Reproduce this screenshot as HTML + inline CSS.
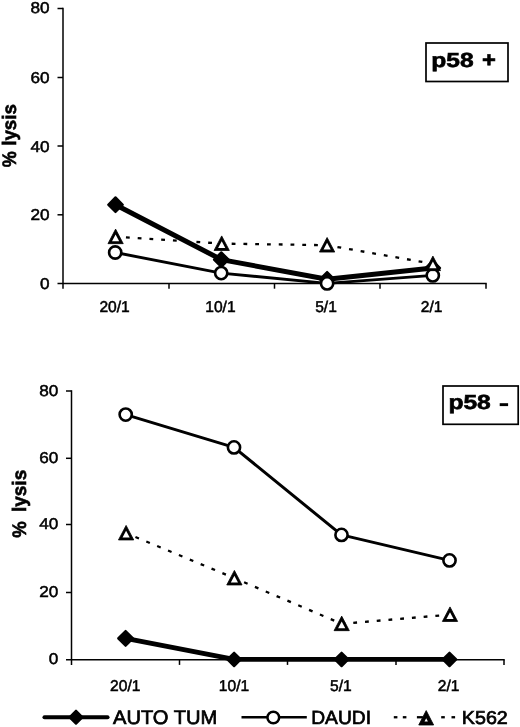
<!DOCTYPE html>
<html><head><meta charset="utf-8"><title>chart</title>
<style>
html,body{margin:0;padding:0;background:#fff;}
svg{display:block;will-change:transform;opacity:0.999;}
text{font-family:"Liberation Sans",sans-serif;fill:#000;stroke:#000;stroke-width:0.5px;text-rendering:geometricPrecision;}
.b{font-weight:bold;stroke-width:0.6px;}
.lg{stroke-width:0.7px;}
</style></head><body>
<svg width="520" height="727" viewBox="0 0 520 727">
<rect width="520" height="727" fill="#fff"/>
<g stroke="#000" stroke-width="1.5" fill="none">
<line x1="63" y1="7.8" x2="63" y2="288.7"/>
<line x1="57.5" y1="283.5" x2="486.7" y2="283.5"/>
<line x1="57.5" y1="214.8" x2="63" y2="214.8"/>
<line x1="57.5" y1="146" x2="63" y2="146"/>
<line x1="57.5" y1="77.5" x2="63" y2="77.5"/>
<line x1="57.5" y1="8.5" x2="63" y2="8.5"/>
<line x1="169" y1="283.5" x2="169" y2="288.7"/>
<line x1="274.5" y1="283.5" x2="274.5" y2="288.7"/>
<line x1="380" y1="283.5" x2="380" y2="288.7"/>
<line x1="486" y1="283.5" x2="486" y2="288.7"/>
</g>
<text x="39.95" y="289.0" font-size="15.7" textLength="9.55" lengthAdjust="spacingAndGlyphs">0</text>
<text x="30.4" y="220.3" font-size="15.7" textLength="19.1" lengthAdjust="spacingAndGlyphs">20</text>
<text x="30.4" y="151.5" font-size="15.7" textLength="19.1" lengthAdjust="spacingAndGlyphs">40</text>
<text x="30.4" y="83.0" font-size="15.7" textLength="19.1" lengthAdjust="spacingAndGlyphs">60</text>
<text x="30.4" y="13.2" font-size="15.7" textLength="19.1" lengthAdjust="spacingAndGlyphs">80</text>
<text x="99.45" y="312.1" font-size="15.6">20/1</text>
<text x="205.25" y="312.1" font-size="15.6">10/1</text>
<text x="315.2" y="312.1" font-size="15.6">5/1</text>
<text x="420.75" y="312.1" font-size="15.6">2/1</text>
<g stroke="#000" stroke-width="1.5" fill="none">
<line x1="71.5" y1="390.3" x2="71.5" y2="664.9000000000001"/>
<line x1="66.0" y1="659.7" x2="504.7" y2="659.7"/>
<line x1="66.0" y1="592.5" x2="71.5" y2="592.5"/>
<line x1="66.0" y1="524.5" x2="71.5" y2="524.5"/>
<line x1="66.0" y1="458.3" x2="71.5" y2="458.3"/>
<line x1="66.0" y1="391" x2="71.5" y2="391"/>
<line x1="179.5" y1="659.7" x2="179.5" y2="664.9000000000001"/>
<line x1="287.5" y1="659.7" x2="287.5" y2="664.9000000000001"/>
<line x1="396" y1="659.7" x2="396" y2="664.9000000000001"/>
<line x1="504" y1="659.7" x2="504" y2="664.9000000000001"/>
</g>
<text x="48.75" y="664.2" font-size="15.7" textLength="9.55" lengthAdjust="spacingAndGlyphs">0</text>
<text x="39.2" y="597.0" font-size="15.7" textLength="19.1" lengthAdjust="spacingAndGlyphs">20</text>
<text x="39.2" y="529.0" font-size="15.7" textLength="19.1" lengthAdjust="spacingAndGlyphs">40</text>
<text x="39.2" y="462.8" font-size="15.7" textLength="19.1" lengthAdjust="spacingAndGlyphs">60</text>
<text x="39.2" y="395.5" font-size="15.7" textLength="19.1" lengthAdjust="spacingAndGlyphs">80</text>
<text x="110.05" y="690.7" font-size="15.6">20/1</text>
<text x="218.85" y="690.7" font-size="15.6">10/1</text>
<text x="330.1" y="690.7" font-size="15.6">5/1</text>
<text x="437.85" y="690.7" font-size="15.6">2/1</text>
<text class="b" font-size="19.5" textLength="16.0" lengthAdjust="spacingAndGlyphs" transform="translate(15.8,167.3) rotate(-90)">%</text><text class="b" font-size="19.5" textLength="41.6" lengthAdjust="spacingAndGlyphs" transform="translate(15.8,145.8) rotate(-90)">lysis</text>
<text class="b" font-size="19.5" textLength="16.4" lengthAdjust="spacingAndGlyphs" transform="translate(26.4,537.8) rotate(-90)">%</text><text class="b" font-size="19.5" textLength="42.2" lengthAdjust="spacingAndGlyphs" transform="translate(26.4,512) rotate(-90)">lysis</text>
<polyline points="115.5,204.7 221.3,259.6 327.1,279.3 432.8,268" fill="none" stroke="#000" stroke-width="5.0" stroke-linejoin="round"/>
<polygon points="108.20,204.7 115.5,197.40 122.80,204.7 115.5,212.00" fill="#000" stroke="#000" stroke-width="2.2" stroke-linejoin="round"/>
<polygon points="214.00,259.6 221.3,252.30 228.60,259.6 221.3,266.90" fill="#000" stroke="#000" stroke-width="2.2" stroke-linejoin="round"/>
<polygon points="319.80,279.3 327.1,272.00 334.40,279.3 327.1,286.60" fill="#000" stroke="#000" stroke-width="2.2" stroke-linejoin="round"/>
<polygon points="425.50,268 432.8,260.70 440.10,268 432.8,275.30" fill="#000" stroke="#000" stroke-width="2.2" stroke-linejoin="round"/>
<polyline points="115.2,252.5 221.2,273.1 327.1,283.4 432.8,275.4" fill="none" stroke="#000" stroke-width="2.9" stroke-linejoin="round"/>
<circle cx="115.2" cy="252.5" r="6.10" fill="#fff" stroke="#000" stroke-width="2.6"/>
<circle cx="221.2" cy="273.1" r="6.10" fill="#fff" stroke="#000" stroke-width="2.6"/>
<circle cx="327.1" cy="283.4" r="6.10" fill="#fff" stroke="#000" stroke-width="2.6"/>
<circle cx="432.8" cy="275.4" r="6.10" fill="#fff" stroke="#000" stroke-width="2.6"/>
<polyline points="115.6,236.8 221.7,243.6 327.1,245.2 432.9,263.8" fill="none" stroke="#000" stroke-width="2.3" stroke-dasharray="3.8 7.97" stroke-dashoffset="1.4" stroke-linecap="butt"/>
<polygon points="107.96,243.65 115.6,229.11 123.24,243.65" fill="#000" stroke="#000" stroke-width="0.8" stroke-linejoin="round"/><polygon points="112.02,241.2 115.6,234.38 119.18,241.2" fill="#fff"/>
<polygon points="214.06,250.45 221.7,235.91 229.34,250.45" fill="#000" stroke="#000" stroke-width="0.8" stroke-linejoin="round"/><polygon points="218.12,248.0 221.7,241.18 225.28,248.0" fill="#fff"/>
<polygon points="319.46,252.05 327.1,237.51 334.74,252.05" fill="#000" stroke="#000" stroke-width="0.8" stroke-linejoin="round"/><polygon points="323.52,249.6 327.1,242.78 330.68,249.6" fill="#fff"/>
<polygon points="425.26,270.65 432.9,256.11 440.54,270.65" fill="#000" stroke="#000" stroke-width="0.8" stroke-linejoin="round"/><polygon points="429.32,268.2 432.9,261.38 436.48,268.2" fill="#fff"/>
<polyline points="125.6,638.4 234.1,659.4 341.6,659.4 449.5,659.4" fill="none" stroke="#000" stroke-width="4.8" stroke-linejoin="round"/>
<polygon points="118.20,638.4 125.6,631.00 133.00,638.4 125.6,645.80" fill="#000" stroke="#000" stroke-width="2.2" stroke-linejoin="round"/>
<polygon points="227.40,659.4 234.1,652.70 240.80,659.4 234.1,666.10" fill="#000" stroke="#000" stroke-width="2.2" stroke-linejoin="round"/>
<polygon points="334.90,659.4 341.6,652.70 348.30,659.4 341.6,666.10" fill="#000" stroke="#000" stroke-width="2.2" stroke-linejoin="round"/>
<polygon points="442.80,659.4 449.5,652.70 456.20,659.4 449.5,666.10" fill="#000" stroke="#000" stroke-width="2.2" stroke-linejoin="round"/>
<polyline points="125.7,414.6 234,447.4 341.5,534.9 449.5,560.4" fill="none" stroke="#000" stroke-width="3.0" stroke-linejoin="round"/>
<circle cx="125.7" cy="414.6" r="6.10" fill="#fff" stroke="#000" stroke-width="2.6"/>
<circle cx="234" cy="447.4" r="6.10" fill="#fff" stroke="#000" stroke-width="2.6"/>
<circle cx="341.5" cy="534.9" r="6.10" fill="#fff" stroke="#000" stroke-width="2.6"/>
<circle cx="449.5" cy="560.4" r="6.10" fill="#fff" stroke="#000" stroke-width="2.6"/>
<polyline points="126.1,533.1 234.4,578.1 341.7,623.8 450,614.6" fill="none" stroke="#000" stroke-width="2.3" stroke-dasharray="3.8 7.97" stroke-dashoffset="1.65" stroke-linecap="butt"/>
<polygon points="118.46,539.95 126.1,525.41 133.74,539.95" fill="#000" stroke="#000" stroke-width="0.8" stroke-linejoin="round"/><polygon points="122.52,537.5 126.1,530.68 129.68,537.5" fill="#fff"/>
<polygon points="226.76,584.95 234.4,570.41 242.04,584.95" fill="#000" stroke="#000" stroke-width="0.8" stroke-linejoin="round"/><polygon points="230.82,582.5 234.4,575.68 237.98,582.5" fill="#fff"/>
<polygon points="334.06,630.65 341.7,616.11 349.34,630.65" fill="#000" stroke="#000" stroke-width="0.8" stroke-linejoin="round"/><polygon points="338.12,628.2 341.7,621.38 345.28,628.2" fill="#fff"/>
<polygon points="442.36,621.45 450.0,606.91 457.64,621.45" fill="#000" stroke="#000" stroke-width="0.8" stroke-linejoin="round"/><polygon points="446.42,619.0 450.0,612.18 453.58,619.0" fill="#fff"/>
<rect x="426" y="43" width="82" height="38.5" fill="#fff" stroke="#000" stroke-width="1.7"/>
<text class="b" x="431.2" y="66.9" font-size="20.3" textLength="42.4" lengthAdjust="spacingAndGlyphs">p58</text>
<text class="b" x="482" y="66.9" font-size="21.5" textLength="13.9" lengthAdjust="spacingAndGlyphs">+</text>
<rect x="443" y="386" width="75.2" height="38.3" fill="#fff" stroke="#000" stroke-width="1.7"/>
<text class="b" x="448.4" y="409.4" font-size="20.3" textLength="42.4" lengthAdjust="spacingAndGlyphs">p58</text>
<rect x="499.7" y="403.2" width="8.4" height="2.9" fill="#000"/>
<line x1="44.5" y1="717.2" x2="107.5" y2="717.2" stroke="#000" stroke-width="4.1" stroke-linecap="round"/>
<polygon points="69.50,717.2 76,710.70 82.50,717.2 76,723.70" fill="#000" stroke="#000" stroke-width="2.2" stroke-linejoin="round"/>
<text class="lg" x="113" y="724" font-size="19.6" textLength="104.3" lengthAdjust="spacingAndGlyphs">AUTO TUM</text>
<line x1="241.5" y1="717.2" x2="306.8" y2="717.2" stroke="#000" stroke-width="2.6"/>
<circle cx="273.3" cy="717.5" r="5.85" fill="#fff" stroke="#000" stroke-width="2.5"/>
<text class="lg" x="311.2" y="724.2" font-size="19" textLength="59.8" lengthAdjust="spacingAndGlyphs">DAUDI</text>
<rect x="393.8" y="716.1" width="3.6" height="2.3" fill="#000"/>
<rect x="402.8" y="716.1" width="3.6" height="2.3" fill="#000"/>
<rect x="441.2" y="716.1" width="3.6" height="2.3" fill="#000"/>
<rect x="451.5" y="716.1" width="3.6" height="2.3" fill="#000"/>
<rect x="416.9" y="716.1" width="6" height="2.3" fill="#000"/>
<polygon points="418.76,725.0 426.2,710.57 433.64,725.0" fill="#000" stroke="#000" stroke-width="0.8" stroke-linejoin="round"/><polygon points="424.5,721.5 426.2,718.21 427.9,721.5" fill="#fff"/>
<text class="lg" x="461.8" y="724" font-size="18.6" textLength="46" lengthAdjust="spacingAndGlyphs">K562</text>
</svg></body></html>
